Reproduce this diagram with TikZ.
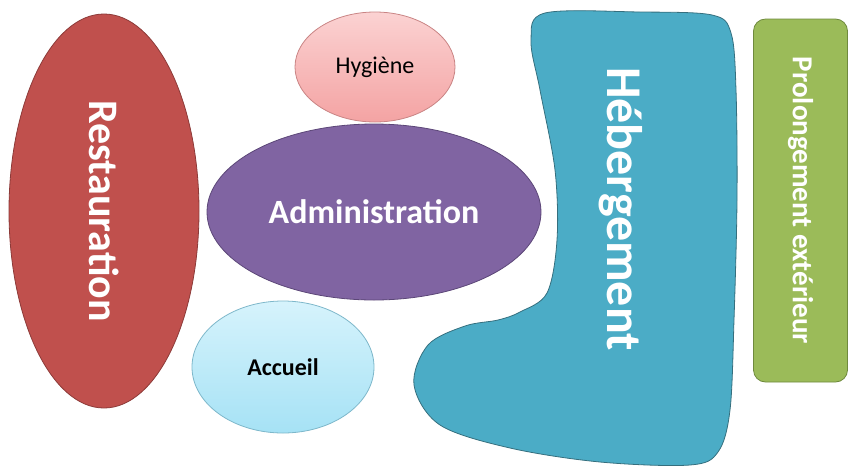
\documentclass[tikz,border=0pt]{standalone}
\usepackage{fontspec}
\setmainfont{Carlito}
\usetikzlibrary{shapes.geometric}
\usetikzlibrary{positioning}

\definecolor{restred}{HTML}{C0504D}
\definecolor{restline}{HTML}{8C3A38}
\definecolor{hygtop}{HTML}{FBD2D2}
\definecolor{hygbot}{HTML}{F4A3A3}
\definecolor{hygline}{HTML}{C98484}
\definecolor{adminviolet}{HTML}{8064A2}
\definecolor{adminline}{HTML}{5C4778}
\definecolor{acctop}{HTML}{D6F3FC}
\definecolor{accbot}{HTML}{A6E2F5}
\definecolor{accline}{HTML}{7DB7CA}
\definecolor{hebaqua}{HTML}{4BACC6}
\definecolor{hebline}{HTML}{356F7E}
\definecolor{prolgreen}{HTML}{9BBB59}
\definecolor{prolline}{HTML}{6F8A3D}

\begin{document}
\begin{tikzpicture}[x=1pt, y=-1pt,
    every node/.style={inner sep=0pt, font=\bfseries},
    blob/.style={ellipse, draw, line width=0.8pt},
    label text/.style={text=white}]

  \useasboundingbox (0,0) rectangle (849,467);

  % Restauration, standing ellipse on the left
  \node[blob, fill=restred, draw=restline, rotate=-90,
        minimum width=394, minimum height=190, label text,
        font=\bfseries\fontsize{42}{42}\selectfont] (rest) at (104,211) {Restauration};

  % the three ellipses in the middle
  \node[blob, top color=hygtop, bottom color=hygbot, draw=hygline,
        minimum width=160, minimum height=110,
        font=\fontsize{24}{24}\selectfont] (hyg) at (375,67) {Hygiène};

  \node[blob, fill=adminviolet, draw=adminline,
        minimum width=334, minimum height=176, label text,
        font=\bfseries\fontsize{34}{34}\selectfont] (admin) at (374,212) {Administration};

  \node[blob, top color=acctop, bottom color=accbot, draw=accline,
        minimum width=182, minimum height=132,
        font=\bfseries\fontsize{24}{24}\selectfont] (acc) at (283,367) {Accueil};

  % Hebergement, the boot shaped area
  \draw[fill=hebaqua, draw=hebline, line width=0.8pt]
    plot[smooth cycle, tension=0.55] coordinates {
      (545,13) (640,12) (712,15) (731,33) (736,90) (737,200) (734,320)
      (730,410) (718,452) (690,465) (600,462) (510,448) (440,425)
      (414,385) (428,345) (465,326) (498,320) (520,312) (547,293)
      (557,240) (555,170) (540,90) (531,40)};
  \coordinate (hebc) at (621,209);
  \node[rotate=-90, label text, font=\bfseries\fontsize{50}{50}\selectfont] (heb) at (hebc) {Hébergement};

  % Prolongement exterieur, rounded bar on the right
  \node[draw=prolline, fill=prolgreen, line width=0.8pt, rounded corners=12pt,
        rotate=-90, minimum width=363, minimum height=94, label text,
        font=\bfseries\fontsize{29}{29}\selectfont] (prol) at (800.5,200.5) {Prolongement extérieur};

\end{tikzpicture}
\end{document}
